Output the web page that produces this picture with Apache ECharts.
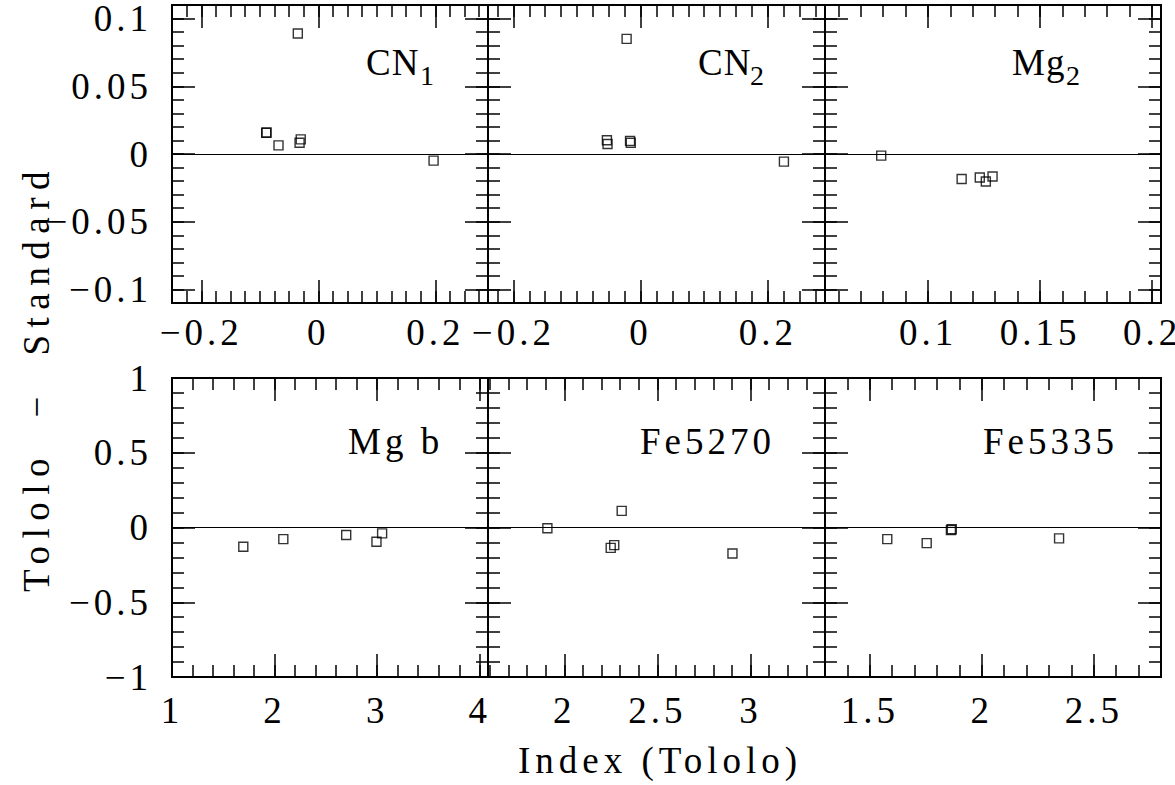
<!DOCTYPE html>
<html>
<head>
<meta charset="utf-8">
<script src="https://cdn.jsdelivr.net/npm/echarts@6/dist/echarts.min.js"></script>
<style>
  html, body { margin: 0; padding: 0; background: #fff; }
  #chart { width: 1175px; height: 785px; }
  #chart text { letter-spacing: 4px; }
  /* per-text spacing, keyed on the font size each text is given below */
  #chart text[style*="36.99px"] { letter-spacing: 1px; }
  #chart text[style*="37.01px"] { letter-spacing: 5px; }
  #chart text[style*="37.02px"] { letter-spacing: 7.5px; }
</style>
</head>
<body>
<div id="chart"></div>
<script>
// Tololo index minus standard value, plotted against the Tololo index
const cn1X = [-0.035, -0.089, -0.0885, -0.068, -0.032, -0.030, 0.197];
const cn1Y = [0.089, 0.0156, 0.0159, 0.0064, 0.0083, 0.0108, -0.0049];

const cn2X = [-0.022, -0.053, -0.052, -0.0166, -0.0155, 0.2254];
const cn2Y = [0.085, 0.0102, 0.0074, 0.0097, 0.0083, -0.0056];

const mg2X = [0.0791, 0.115, 0.1231, 0.1258, 0.1288];
const mg2Y = [-0.0012, -0.0185, -0.0173, -0.0203, -0.0166];

const mgbX = [1.695, 2.085, 2.698, 2.993, 3.048];
const mgbY = [-0.129, -0.078, -0.0505, -0.0955, -0.039];

const fe5270X = [1.909, 2.308, 2.249, 2.268, 2.903];
const fe5270Y = [-0.005, 0.111, -0.136, -0.118, -0.174];

const fe5335X = [1.578, 1.754, 1.862, 1.866, 2.345];
const fe5335Y = [-0.0775, -0.1045, -0.017, -0.012, -0.073];

// labelled tick values
const cnTicks = [-0.2, 0, 0.2];
const mg2Ticks = [0.1, 0.15, 0.2];
const mgbTicks = [1, 2, 3, 4];
const fe5270Ticks = [2, 2.5, 3];
const fe5335Ticks = [1.5, 2, 2.5];
const topYTicks = [-0.1, -0.05, 0, 0.05, 0.1];
const bottomYTicks = [-1, -0.5, 0, 0.5, 1];

// panel names (main part, subscript)
const panelNames = [['CN', '1'], ['CN', '2'], ['Mg', '2'], ['Mg b', ''], ['Fe5270', ''], ['Fe5335', '']];

// ---- layout ----
const colLeft = [172, 488, 825];
const colWidth = [316, 337, 336];
const rowTop = [5, 378];
const rowHeight = [298, 299];

const FONT = 'Liberation Serif';
const MINUS = '\u2212';

const panels = [
  { x: cn1X, y: cn1Y, xr: [-0.25, 0.29], xt: cnTicks, xm: 0.025, row: 0, col: 0 },
  { x: cn2X, y: cn2Y, xr: [-0.24, 0.29], xt: cnTicks, xm: 0.025, row: 0, col: 1 },
  { x: mg2X, y: mg2Y, xr: [0.054, 0.204], xt: mg2Ticks, xm: 0.01, row: 0, col: 2 },
  { x: mgbX, y: mgbY, xr: [1, 4.08], xt: mgbTicks, xm: 0.2, row: 1, col: 0 },
  { x: fe5270X, y: fe5270Y, xr: [1.59, 3.40], xt: fe5270Ticks, xm: 0.1, row: 1, col: 1 },
  { x: fe5335X, y: fe5335Y, xr: [1.3, 2.8], xt: fe5335Ticks, xm: 0.1, row: 1, col: 2 }
];
const rowY = [
  { yr: [-0.11, 0.11], yt: topYTicks, ym: 0.01 },
  { yr: [-1, 1], yt: bottomYTicks, ym: 0.1 }
];

function fmt(v) { return (v < 0 ? MINUS : '') + String(Math.abs(v)); }

function minorValues(min, max, step) {
  const out = [];
  const n0 = Math.ceil(min / step - 1e-9), n1 = Math.floor(max / step + 1e-9);
  for (let n = n0; n <= n1; n++) {
    const v = +(n * step).toFixed(6);
    if (v > min && v < max) out.push(v);
  }
  return out;
}

function tickAxis(gridIndex, position, range, values, len, labels, margin) {
  return {
    type: 'value', gridIndex, position, min: range[0], max: range[1],
    axisLine: { show: false, onZero: false },
    splitLine: { show: false },
    minorTick: { show: false },
    axisTick: { show: true, inside: true, length: len, customValues: values,
                lineStyle: { color: '#000', width: 1.5 } },
    axisLabel: labels ? {
      show: true, customValues: values, formatter: fmt, margin: margin,
      color: '#000', fontFamily: FONT, fontSize: 37, hideOverlap: false
    } : { show: false }
  };
}

const grids = [], xAxes = [], yAxes = [], series = [], graphics = [];

panels.forEach((p, g) => {
  const ry = rowY[p.row];
  grids.push({
    left: colLeft[p.col], top: rowTop[p.row],
    width: colWidth[p.col], height: rowHeight[p.row],
    show: true, borderColor: '#000', borderWidth: 2, backgroundColor: 'transparent',
    containLabel: false, outerBoundsMode: 'none'
  });
  const xMinor = minorValues(p.xr[0], p.xr[1], p.xm);
  const yMinor = minorValues(ry.yr[0], ry.yr[1], ry.ym);
  const xMargin = p.row === 0 ? 11 : 15;
  xAxes.push(tickAxis(g, 'bottom', p.xr, p.xt, 23, true, xMargin));
  xAxes.push(tickAxis(g, 'bottom', p.xr, xMinor, 12, false));
  xAxes.push(tickAxis(g, 'top', p.xr, p.xt, 23, false));
  xAxes.push(tickAxis(g, 'top', p.xr, xMinor, 12, false));
  yAxes.push(tickAxis(g, 'left', ry.yr, ry.yt, 23, p.col === 0, 20));
  yAxes.push(tickAxis(g, 'left', ry.yr, yMinor, 12, false));
  yAxes.push(tickAxis(g, 'right', ry.yr, ry.yt, 23, false));
  yAxes.push(tickAxis(g, 'right', ry.yr, yMinor, 12, false));

  series.push({
    type: 'scatter',
    xAxisIndex: 4 * g, yAxisIndex: 4 * g,
    data: p.x.map((v, i) => [v, p.y[i]]),
    symbol: 'rect', symbolSize: 9,
    itemStyle: { color: 'rgba(0,0,0,0)', borderColor: '#000', borderWidth: 1.4 },
    emphasis: { disabled: true },
    silent: true,
    markLine: {
      silent: true, symbol: ['none', 'none'], label: { show: false },
      lineStyle: { color: '#000', width: 1, type: 'solid' },
      emphasis: { disabled: true },
      data: [{ yAxis: 0 }]
    }
  });
});

// panel names
const nameLeft = [366, 698, 1012, 348, 640, 983];
const subLeft = [420, 750, 1066];
panelNames.forEach((n, i) => {
  const row = i < 3 ? 0 : 1;
  const cy = row === 0 ? 62 : 441;
  const size = n[1] ? '36.99px' : '37px';
  graphics.push({
    type: 'text', x: nameLeft[i], y: cy, silent: true,
    style: { text: n[0], font: size + ' "' + FONT + '"', fill: '#000',
             align: 'left', verticalAlign: 'middle', textAlign: 'left', textVerticalAlign: 'middle' }
  });
  if (n[1]) {
    graphics.push({
      type: 'text', x: subLeft[i], y: cy + 13, silent: true,
      style: { text: n[1], font: '28px "' + FONT + '"', fill: '#000',
               align: 'left', verticalAlign: 'middle', textAlign: 'left', textVerticalAlign: 'middle' }
    });
  }
});

// axis titles
graphics.push({
  type: 'text', x: 660, y: 760, silent: true,
  style: { text: 'Index (Tololo)', font: '37.01px "' + FONT + '"', fill: '#000',
           align: 'center', verticalAlign: 'middle', textAlign: 'center', textVerticalAlign: 'middle' }
});
graphics.push({
  type: 'text', x: 36, y: 378, rotation: Math.PI / 2, silent: true,
  style: { text: 'Tololo\u00a0\u00a0\u2212\u00a0\u00a0Standard', font: '37.02px "' + FONT + '"', fill: '#000',
           align: 'center', verticalAlign: 'middle', textAlign: 'center', textVerticalAlign: 'middle' }
});

const chart = echarts.init(document.getElementById('chart'), null, { renderer: 'svg' });
chart.setOption({
  backgroundColor: '#fff',
  animation: false,
  grid: grids,
  xAxis: xAxes,
  yAxis: yAxes,
  series: series,
  graphic: graphics
});
</script>
</body>
</html>
